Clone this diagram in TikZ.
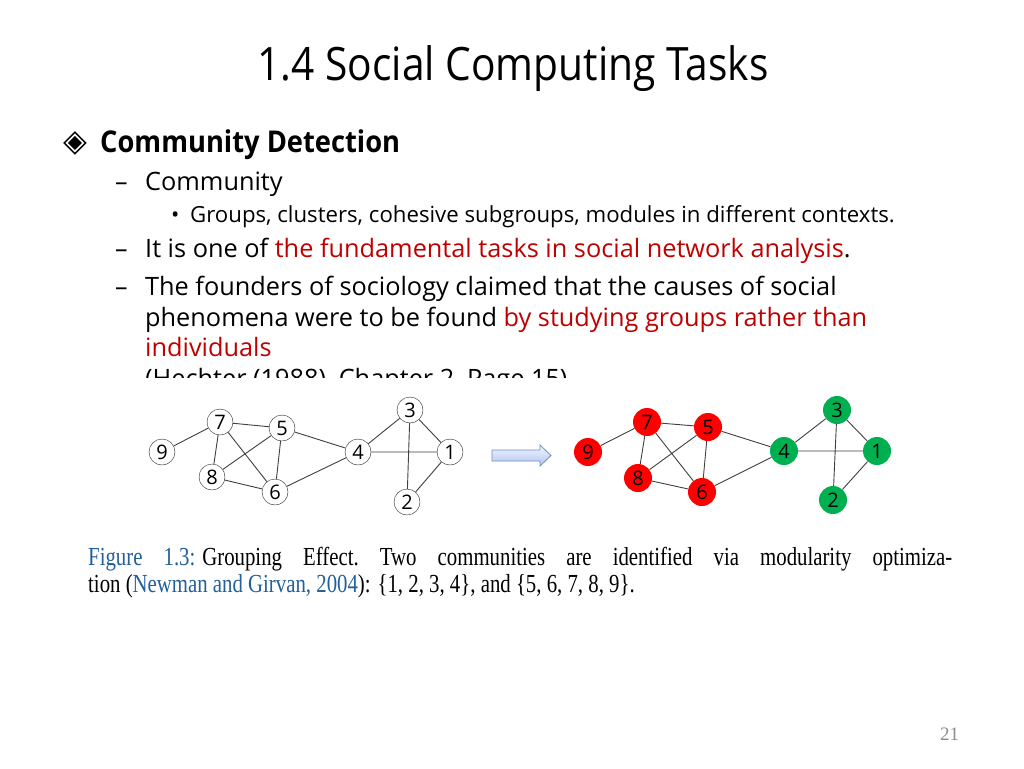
\documentclass[tikz,border=0pt]{standalone}
\usepackage{fontspec}
\setmainfont{Open Sans}
\newfontfamily\symfont{DejaVu Sans}
\newfontfamily\capfont{Liberation Serif}
\definecolor{hilite}{RGB}{192,0,0}
\definecolor{figblue}{RGB}{35,95,155}
\definecolor{grpred}{RGB}{255,0,0}
\definecolor{grpgreen}{RGB}{0,176,80}
\definecolor{arrowline}{RGB}{110,143,201}
\definecolor{arrowfill}{RGB}{175,198,240}

\begin{document}
\begin{tikzpicture}[x=1pt,y=-1pt,
	txt/.style={anchor=base west, inner sep=0pt},
	vert/.style={draw=black!85, circle, fill=white, inner sep=0pt, minimum size=26pt, font=\fontsize{20}{20}\selectfont},
	redv/.style={circle, fill=grpred, inner sep=0pt, minimum size=28pt, font=\fontsize{20}{20}\selectfont},
	greenv/.style={circle, fill=grpgreen, inner sep=0pt, minimum size=28pt, font=\fontsize{20}{20}\selectfont},
	edge/.style={draw=black!75, line width=0.9pt}]
		\useasboundingbox [fill=white] (0,0) rectangle (1024,768);
		%Title
		\node (title) [anchor=base, inner sep=0pt] at (513,80) {\scalebox{0.885}[1]{\fontsize{46}{50}\selectfont 1.4 Social Computing Tasks}};
		%Bullets
		\node (dia) [txt] at (63,151) {\fontsize{31}{34}\selectfont\symfont ◈};
		\node (lvla) [txt] at (100,152) {\scalebox{0.91}[1]{\fontsize{30}{34}\selectfont\bfseries Community Detection}};
		\node (dasha) [txt] at (115,190) {\fontsize{25}{30}\selectfont –};
		\node (comm) [txt] at (145,190) {\fontsize{25.3}{30}\selectfont Community};
		\node (dot) [txt] at (171,222) {\fontsize{22}{25}\selectfont •};
		\node (groups) [txt] at (190,222) {\fontsize{22.2}{25}\selectfont Groups, clusters, cohesive subgroups, modules in different contexts.};
		\node (dashb) [txt] at (115,257) {\fontsize{25}{30}\selectfont –};
		\node (task) [txt] at (145,257) {\fontsize{25.3}{30}\selectfont It is one of \textcolor{hilite}{the fundamental tasks in social network analysis}.};
		\node (dashc) [txt] at (115,295) {\fontsize{25}{30}\selectfont –};
		\node (foundA) [txt] at (145,295) {\fontsize{25.3}{30}\selectfont The founders of sociology claimed that the causes of social};
		\node (foundB) [txt] at (145,326) {\fontsize{25.3}{30}\selectfont phenomena were to be found \textcolor{hilite}{by studying groups rather than}};
		\node (foundC) [txt] at (145,356) {\fontsize{25.3}{30}\selectfont\color{hilite} individuals};
		\node (cite) [txt] at (145,387) {\fontsize{25.3}{30}\selectfont (Hechter (1988), Chapter 2, Page 15)};
		%Picture covers the citation
		\fill [white] (130,378) rectangle (990,530);
		%Left graph
		\node (l7) [vert] at (220,422) {7};
		\node (l5) [vert] at (282,428) {5};
		\node (l9) [vert] at (162,452) {9};
		\node (l8) [vert] at (212,477) {8};
		\node (l6) [vert] at (275,492) {6};
		\node (l4) [vert] at (358,452) {4};
		\node (l3) [vert] at (410,410) {3};
		\node (l1) [vert] at (450,452) {1};
		\node (l2) [vert] at (407,502) {2};
		\draw [edge] (l9) -- (l7) (l7) -- (l5) (l7) -- (l8) (l7) -- (l6) (l5) -- (l8) (l5) -- (l6)
			(l5) -- (l4) (l8) -- (l6) (l6) -- (l4) (l4) -- (l3) (l4) -- (l1) (l3) -- (l1) (l3) -- (l2) (l1) -- (l2);
		%Arrow
		\draw [draw=arrowline, line width=0.8pt, top color=blue!4, bottom color=arrowfill]
			(492,450) -- (540,450) -- (540,445) -- (551,455.5) -- (540,466) -- (540,461) -- (492,461) -- cycle;
		%Right graph
		\node (r7) [redv] at (647,422) {7};
		\node (r5) [redv] at (708,427) {5};
		\node (r9) [redv] at (588,452) {9};
		\node (r8) [redv] at (638,478) {8};
		\node (r6) [redv] at (702,492) {6};
		\node (r4) [greenv] at (784,451) {4};
		\node (r3) [greenv] at (837,410) {3};
		\node (r1) [greenv] at (877,451) {1};
		\node (r2) [greenv] at (833,500) {2};
		\draw [edge] (r9) -- (r7) (r7) -- (r5) (r7) -- (r8) (r7) -- (r6) (r5) -- (r8) (r5) -- (r6)
			(r5) -- (r4) (r8) -- (r6) (r6) -- (r4) (r4) -- (r3) (r4) -- (r1) (r3) -- (r1) (r3) -- (r2) (r1) -- (r2);
		%Caption
		\node (capA) [txt] at (88,565) {\scalebox{0.8}[1]{\fontsize{26}{28}\capfont\hbox to 1080pt{\textcolor{figblue}{Figure\hfil\ 1.3:} Grouping\hfil\ Effect.\hfil\ Two\hfil\ communities\hfil\ are\hfil\ identified\hfil\ via\hfil\ modularity\hfil\ optimiza-}}};
		\node (capB) [txt] at (88,592) {\scalebox{0.8}[1]{\fontsize{26}{28}\capfont tion (\textcolor{figblue}{Newman and Girvan, 2004}): \{1, 2, 3, 4\}, and \{5, 6, 7, 8, 9\}.}};
		%Page number
		\node (page) [txt, text=black!45] at (940,740) {\fontsize{19}{22}\capfont 21};
	\end{tikzpicture}
\end{document}
